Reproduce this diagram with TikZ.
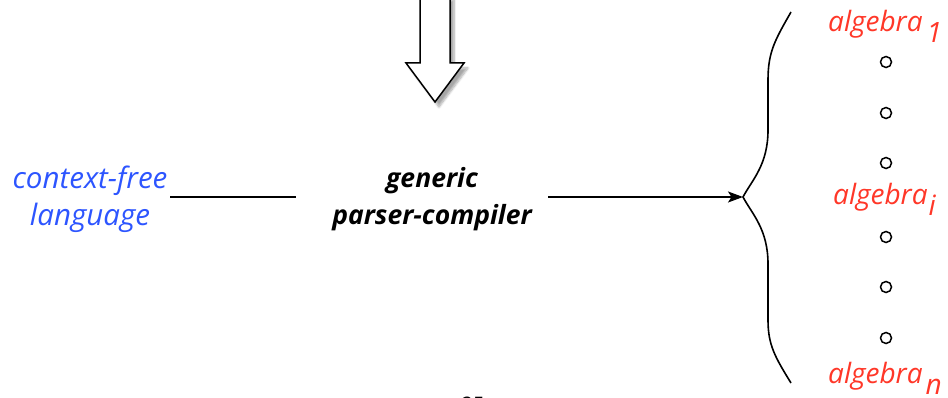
\documentclass[tikz,border=0pt]{standalone}
\usepackage{fontspec}
\setmainfont{Open Sans}
\usetikzlibrary{arrows.meta,shadows.blur}
\definecolor{langblue}{RGB}{45,85,255}
\definecolor{algred}{RGB}{255,55,40}
\tikzset{
  lbl/.style={inner sep=0pt, align=center, font=\fontsize{29.5}{37}\selectfont\itshape},
  alg/.style={lbl, text=algred, anchor=base west, font=\fontsize{28}{37}\selectfont\itshape},
  stage/.style={draw=black, line width=1.6pt},
  pt/.style={circle, draw=black, line width=1.5pt, minimum size=11pt, inner sep=0pt},
}
\newcommand{\sub}[1]{\raisebox{-11pt}{#1}}
\begin{document}
\begin{tikzpicture}[x=1pt,y=-1pt]
  \useasboundingbox (0,0) rectangle (948,398);
  \clip (0,0) rectangle (948,398);

  % big hollow arrow coming down from above
  \path[fill=white, draw=black, line width=1.5pt, line join=miter,
        blur shadow={shadow xshift=4pt, shadow yshift=-5pt, shadow blur steps=8, shadow opacity=35}]
    (420,-5) -- (450,-5) -- (450,63) -- (464,63) -- (435,102) -- (406,63) -- (420,63) -- cycle;

  % labels
  \node[lbl, text=langblue] (cfl) at (90,199) {context-free\\language};
  \node[lbl, font=\fontsize{26.5}{37}\selectfont\itshape\bfseries] (gpc) at (432,199) {generic\\parser-compiler};

  % brace tip and ends
  \coordinate (tip) at (743,197);
  \coordinate (btop) at (791,12);
  \coordinate (bbot) at (791,383);
  \coordinate (l1) at (170,197);
  \coordinate (l2) at (296,197);
  \coordinate (r1) at (548,197);

  \draw[stage] (l1) -- (l2);
  \draw[stage, -{Stealth[length=15pt, width=11pt, inset=3.5pt]}] (r1) -- (tip);

  % curly brace
  \draw[stage]
    (btop) .. controls (775,40) and (768,52) .. (768,80)
           -- (768,130)
           .. controls (768,165) and (752,180) .. (tip)
           .. controls (752,214) and (768,229) .. (768,264)
           -- (768,320)
           .. controls (768,345) and (775,357) .. (bbot);

  % algebras
  \node[alg] (a1) at (828,32) {algebra\kern4pt\sub{1}};
  \node[alg] (ai) at (833,205) {algebra\kern1pt\sub{i}};
  \node[alg] (an) at (828,383) {algebra\kern3pt\sub{n}};

  \foreach \y [count=\k] in {62,113,163,237,287,338}
    \node[pt] (d\k) at (886,\y) {};

  % page number, cut at the bottom edge
  \node[font=\fontsize{20}{24}\rmfamily, inner sep=0pt] (pg) at (473,404) {25};
\end{tikzpicture}
\end{document}
